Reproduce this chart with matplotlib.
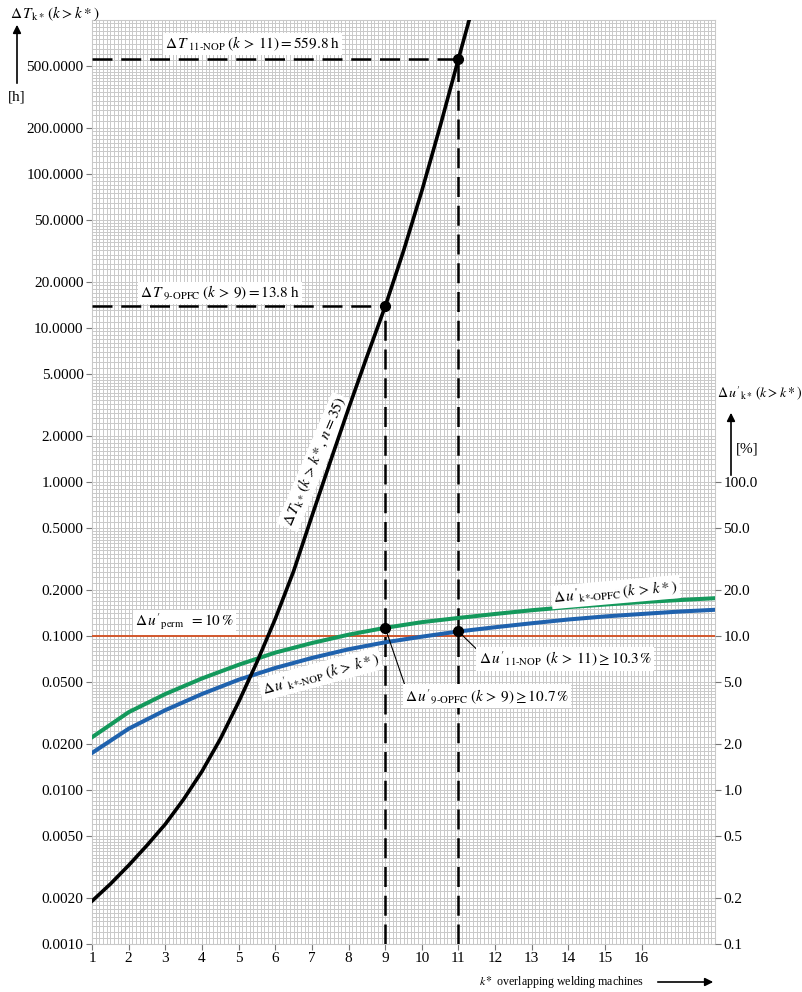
import numpy as np
import matplotlib
matplotlib.use("Agg")
import matplotlib.pyplot as plt
from matplotlib.ticker import FixedLocator, FixedFormatter, NullFormatter

plt.rcParams["font.family"] = ["Liberation Serif", "DejaVu Serif"]
plt.rcParams["mathtext.fontset"] = "stix"

# ---------------------------------------------------------------------------
# Data
# ---------------------------------------------------------------------------
k_T = [1.0, 1.5, 2.0, 2.5, 3.0, 3.5, 4.0, 4.5, 5.0, 5.5, 6.0, 6.5, 7.0,
       7.5, 8.0, 8.5, 9.0, 9.5, 10.0, 10.5, 11.0, 11.5]
dT_hours = [0.0019, 0.00245, 0.00324, 0.00437, 0.0060, 0.0087, 0.0132, 0.0214,
            0.0372, 0.0676, 0.129, 0.263, 0.60, 1.35, 3.0, 6.5, 13.8, 31.6,
            77.6, 204.0, 559.8, 1510.0]

k_u = list(range(1, 19))
du_opfc_pct = [2.2, 3.2, 4.2, 5.3, 6.5, 7.8, 9.0, 10.2, 11.3, 12.3, 13.1,
               13.9, 14.7, 15.4, 16.0, 16.6, 17.1, 17.6]
du_nop_pct = [1.74, 2.5, 3.3, 4.2, 5.2, 6.2, 7.2, 8.2, 9.1, 9.9, 10.7,
              11.4, 12.1, 12.8, 13.4, 13.9, 14.4, 14.8]
du_perm_pct = 10.0

mark_k = [9, 11]
mark_T = [13.8, 559.8]

left_ticks = [0.001, 0.002, 0.005, 0.01, 0.02, 0.05, 0.1, 0.2, 0.5, 1, 2, 5,
              10, 20, 50, 100, 200, 500]
right_ticks = [0.1, 0.2, 0.5, 1, 2, 5, 10, 20, 50, 100]
x_ticks = list(range(1, 17))

GREEN = "#14995c"
BLUE = "#1f62ae"
RED = "#d2572c"
GRID = "#c9c9c9"

# ---------------------------------------------------------------------------
fig = plt.figure(figsize=(8.03, 9.92), dpi=100)
ax = fig.add_axes([92 / 803, 1 - 944 / 992, (715 - 92) / 803, (944 - 20) / 992])
ax.set_yscale("log")
ax.set_xlim(1, 18)
ax.set_ylim(0.001, 1000)

# dense grid paper
ax.xaxis.set_minor_locator(FixedLocator(np.arange(1, 18.01, 0.1)))
subs = np.concatenate([np.arange(1, 2, 0.1), np.arange(2, 5, 0.2),
                       np.arange(5, 10, 0.5)])
ax.yaxis.set_minor_locator(matplotlib.ticker.LogLocator(base=10, subs=subs, numticks=50))
ax.yaxis.set_minor_formatter(NullFormatter())
ax.grid(True, which="both", color=GRID, lw=0.7)
ax.tick_params(which="minor", length=0)
for s in ax.spines.values():
    s.set_color(GRID)

ax.set_xticks(x_ticks)
ax.set_xticklabels([str(v) for v in x_ticks], fontsize=11)
ax.yaxis.set_major_locator(FixedLocator(left_ticks))
ax.yaxis.set_major_formatter(FixedFormatter([f"{v:.4f}" for v in left_ticks]))
ax.tick_params(which="major", length=4, color="#777777", labelsize=11, pad=2)

ax2 = ax.twinx()
ax2.set_yscale("log")
ax2.set_ylim(0.1, 1e5)
ax2.yaxis.set_major_locator(FixedLocator(right_ticks))
ax2.yaxis.set_major_formatter(FixedFormatter([f"{v:.1f}" for v in right_ticks]))
ax2.yaxis.set_minor_locator(FixedLocator([]))
ax2.tick_params(which="major", length=4, color="#777777", labelsize=11, pad=2)
for s in ax2.spines.values():
    s.set_visible(False)

# dashed guide lines
dash = dict(color="black", lw=1.8, ls=(0, (8, 3.5)), zorder=3)
for kk, tt in zip(mark_k, mark_T):
    ax.plot([1, kk], [tt, tt], **dash)
    ax.plot([kk, kk], [0.001, tt], **dash)

# curves
ax2.axhline(du_perm_pct, color=RED, lw=1.4, zorder=3)
ax2.plot(k_u, du_opfc_pct, color=GREEN, lw=2.9, zorder=4)
ax2.plot(k_u, du_nop_pct, color=BLUE, lw=2.9, zorder=4)
ax2.plot(k_T, np.array(dT_hours) * 100, color="black", lw=2.6, zorder=5)

ax2.plot(mark_k, np.array(mark_T) * 100, "o", color="black", ms=7, zorder=6)
ax2.plot([9], [du_opfc_pct[8]], "o", color="black", ms=7, zorder=6)
ax2.plot([11], [du_nop_pct[10]], "o", color="black", ms=7, zorder=6)

# labels in plot
box = dict(facecolor="white", edgecolor="none", pad=1.5)
fs = 11
ax.text(2.99, 698, r"$\Delta\,T_{\;\text{11-NOP}}\;(k\,>\,11) = 559.8\;\mathrm{h}$",
        fontsize=fs, va="center", ha="left", bbox=box, zorder=7)
ax.text(2.31, 16.9, r"$\Delta\,T_{\;\text{9-OPFC}}\;(k\,>\,9) = 13.8\;\mathrm{h}$",
        fontsize=fs, va="center", ha="left", bbox=box, zorder=7)
ax2.text(2.17, 12.3, r"$\Delta\,u'_{\mathrm{perm}}\;\; = 10\,\%$",
         fontsize=fs, va="center", ha="left", bbox=box, zorder=7)
ax.text(7.08, 1.35, r"$\Delta\,T_{\mathrm{k}*}\,(k\,>\,k*,\, n = 35)$",
        fontsize=fs, va="center", ha="center", rotation=67, bbox=box, zorder=7)
ax2.text(7.23, 5.67, r"$\Delta\,u'_{\text{k*-NOP}}\;(k\,>\,k*)$",
         fontsize=fs, va="center", ha="center", rotation=15, bbox=box, zorder=7)
ax2.text(15.29, 19.3, r"$\Delta\,u'_{\text{k*-OPFC}}\,(k\,>\,k*)$",
         fontsize=fs, va="center", ha="center", rotation=5, bbox=box, zorder=7)

ax2.plot([11, 11.52], [du_nop_pct[10], 8.1], color="black", lw=0.8, zorder=6)
ax2.text(11.55, 7.1, r"$\Delta\,u'_{\text{11-NOP}}\;\,(k\,>\,11) \geq 10.3\,\%$",
         fontsize=fs, va="center", ha="left", bbox=box, zorder=7)
ax2.plot([9, 9.55], [du_opfc_pct[8], 4.7], color="black", lw=0.8, zorder=6)
ax2.text(9.55, 4.07, r"$\Delta\,u'_{\text{9-OPFC}}\;(k\,>\,9) \geq 10.7\,\%$",
         fontsize=fs, va="center", ha="left", bbox=box, zorder=7)


# axis titles with arrows
def fx(px):
    return px / 803


def fy(py):
    return 1 - py / 992


arrow = dict(arrowstyle="-|>", color="black", lw=1.2, mutation_scale=12)
fig.text(fx(10), fy(14), r"$\Delta\,T_{\mathrm{k}*}\,(k > k*)$", fontsize=11, va="center")
ax.annotate("", xy=(fx(17), fy(22)), xytext=(fx(17), fy(86)),
            xycoords="figure fraction", textcoords="figure fraction",
            arrowprops=arrow, annotation_clip=False)
fig.text(fx(8), fy(97), "[h]", fontsize=11, va="center")

fig.text(fx(717), fy(394), r"$\Delta\,u'_{\mathrm{k}*}\,(k > k*)$", fontsize=10, va="center")
ax.annotate("", xy=(fx(731), fy(410)), xytext=(fx(731), fy(478)),
            xycoords="figure fraction", textcoords="figure fraction",
            arrowprops=arrow, annotation_clip=False)
fig.text(fx(736), fy(449), "[%]", fontsize=11, va="center")

fig.text(fx(479), fy(982), r"$k*$ overlapping welding machines", fontsize=8.6, va="center")
ax.annotate("", xy=(fx(716), fy(982)), xytext=(fx(655), fy(982)),
            xycoords="figure fraction", textcoords="figure fraction",
            arrowprops=arrow, annotation_clip=False)

fig.savefig("out.png", dpi=100, facecolor="white")
